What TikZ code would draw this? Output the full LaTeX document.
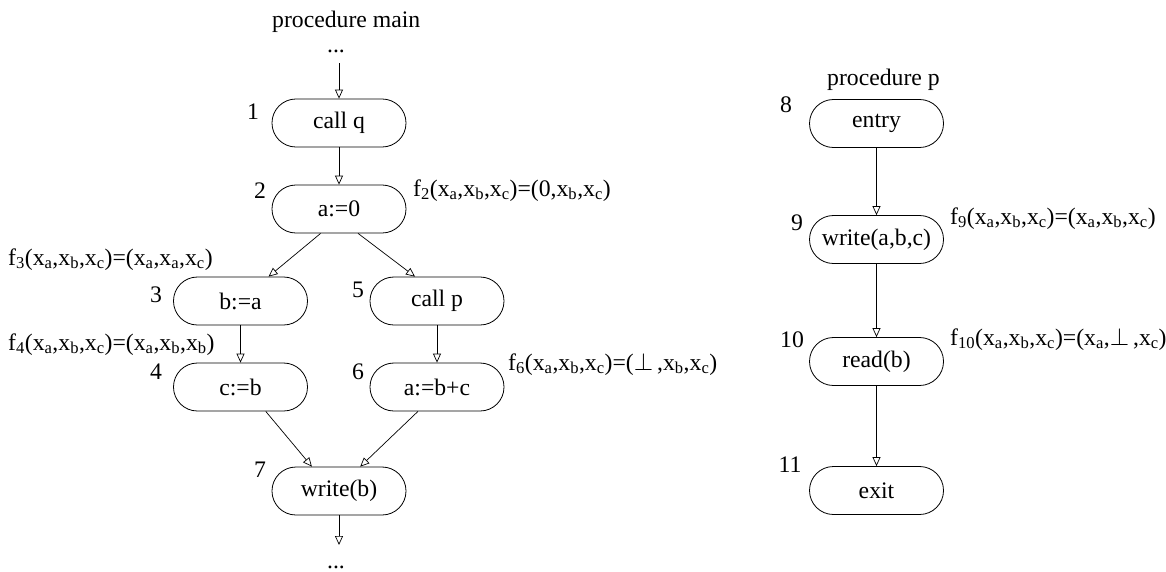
\documentclass[tikz,border=0pt]{standalone}
\usepackage{fontspec}
\setmainfont{Liberation Serif}
\usetikzlibrary{arrows.meta}
\newcommand\xs[1]{x\textsubscript{#1}}
\newcommand\fs[1]{f\textsubscript{#1}}
\newcommand\xabc{(\xs{a},\xs{b},\xs{c})}
\begin{document}
\begin{tikzpicture}[x=1pt,y=-1pt,
  font=\fontsize{23.7}{29}\selectfont,
  stmt/.style={draw, line width=0.8pt, rounded corners=23.9pt, minimum width=134pt, minimum height=48pt, inner sep=0pt},
  num/.style={inner sep=0pt},
  fn/.style={inner sep=0pt, anchor=base west},
  flow/.style={draw, line width=0.7pt, -{Triangle[open,length=9pt,width=8pt]}}]
\useasboundingbox (0,0) rectangle (1166,571);

% main procedure
\node[fn] (tmain) at (272,27) {procedure main};
\node[inner sep=0pt, anchor=base] (dtop) at (336,52) {...};
\node[stmt] (n1) at (339,123) {call q};
\node[stmt] (n2) at (339,209) {a:=0};
\node[stmt] (n3) at (240.5,301) {b:=a};
\node[stmt] (n5) at (437,301) {call p};
\node[stmt] (n4) at (240.5,387) {c:=b};
\node[stmt] (n6) at (437,387) {a:=b+c};
\node[stmt] (n7) at (339,491) {write(b)};
\node[inner sep=0pt, anchor=base] (dbot) at (336,568) {...};
\coordinate (s0) at (339,63);
\coordinate (e7) at (339,545);

% procedure p
\node[fn] (tp) at (827,85) {procedure p};
\node[stmt] (n8) at (876.5,123.5) {entry};
\node[stmt] (n9) at (876.5,239.5) {write(a,b,c)};
\node[stmt] (n10) at (876.5,361.5) {read(b)};
\node[stmt] (n11) at (876.5,490.5) {exit};

% numbers
\node[num] (l1) at (253,112) {1};
\node[num] (l2) at (260,191) {2};
\node[num] (l3) at (156,295) {3};
\node[num] (l4) at (156,372) {4};
\node[num] (l5) at (358,290) {5};
\node[num] (l6) at (358,372) {6};
\node[num] (l7) at (260,470) {7};
\node[num] (l8) at (786,105) {8};
\node[num] (l9) at (797,223) {9};
\node[num] (l10) at (792,340) {10};
\node[num] (l11) at (790,465) {11};

% transfer functions
\node[fn] (f2) at (413,196) {\fs{2}\xabc=(0,\xs{b},\xs{c})};
\node[fn] (f3) at (8,265) {\fs{3}\xabc=(\xs{a},\xs{a},\xs{c})};
\node[fn] (f4) at (8,350) {\fs{4}\xabc=(\xs{a},\xs{b},\xs{b})};
\node[fn] (f6) at (508,370) {\fs{6}\xabc=($\perp$\,,\xs{b},\xs{c})};
\node[fn] (f9) at (950,224) {\fs{9}\xabc=\xabc};
\node[fn] (f10) at (950,345) {\fs{10}\xabc=(\xs{a},$\perp$\,,\xs{c})};

% edges
\draw[flow] (s0) -- (n1);
\draw[flow] (n1) -- (n2);
\draw[flow] (n2.233) -- (n3.41);
\draw[flow] (n2.308) -- (n5.132);
\draw[flow] (n3) -- (n4);
\draw[flow] (n5) -- (n6);
\draw[flow] (n4.316) -- (n7.138);
\draw[flow] (n6.232) -- (n7.49);
\draw[flow] (n7) -- (e7);
\draw[flow] (n8) -- (n9);
\draw[flow] (n9) -- (n10);
\draw[flow] (n10) -- (n11);
\end{tikzpicture}
\end{document}
